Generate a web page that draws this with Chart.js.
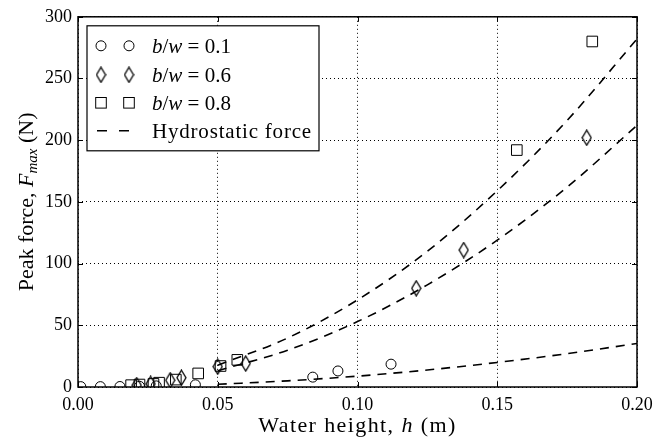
<!DOCTYPE html>
<html>
<head>
<meta charset="utf-8">
<script src="https://cdn.jsdelivr.net/npm/chart.js"></script>
<style>
    html, body { margin: 0; padding: 0; background: #fff; }
    #wrap { width: 672px; height: 443px; }
</style>
</head>
<body>
<div id="wrap"><canvas id="plt-force"></canvas></div>
<script>
let h_01 = [0.001, 0.008, 0.015, 0.022, 0.028, 0.042, 0.084, 0.093, 0.112];
let f_01 = [0.3, 0.3, 0.4, 0.6, 0.9, 1.8, 8.0, 13.0, 18.5];

let h_06 = [0.021, 0.026, 0.033, 0.037, 0.050, 0.060, 0.121, 0.138, 0.182];
let f_06 = [1.5, 2.5, 5.5, 7.5, 16.5, 19.0, 80.0, 111.0, 202.0];

let h_08 = [0.019, 0.022, 0.027, 0.029, 0.035, 0.043, 0.051, 0.057, 0.157, 0.184];
let f_08 = [1.5, 2.0, 2.5, 3.5, 6.0, 11.0, 17.0, 22.0, 192.0, 280.0];

// hydrostatic force curves (dashed), read at a few heights
let h_hyd = [0.05, 0.075, 0.10, 0.125, 0.15, 0.175, 0.20];
let hyd_01 = [2.2, 5.0, 8.8, 13.8, 19.9, 27.0, 35.3];
let hyd_06 = [13.2, 29.8, 53.0, 82.8, 119.0, 162.0, 212.0];
let hyd_08 = [17.7, 39.7, 70.6, 110.0, 159.0, 216.0, 282.0];

let x_ticks = [0.00, 0.05, 0.10, 0.15, 0.20];
let y_ticks = [0, 50, 100, 150, 200, 250, 300];
let legend_labels = ['0.1', '0.6', '0.8'];

const SERIF = '"Liberation Serif", "DejaVu Serif", serif';

function pts(xs, ys) {
    return xs.map((v, i) => ({ x: v, y: ys[i] }));
}

// thin diamond marker like matplotlib 'd'
function thin_diamond() {
    let c = document.createElement('canvas');
    c.width = 11; c.height = 17;
    let g = c.getContext('2d');
    g.strokeStyle = '#000';
    g.lineWidth = 1.3;
    g.beginPath();
    g.moveTo(5.5, 1); g.lineTo(10, 8.5); g.lineTo(5.5, 16); g.lineTo(1, 8.5); g.closePath();
    g.stroke();
    return c;
}
let diamond = thin_diamond();

function draw_parts(ctx, parts, cx, cy) {
    let total = 0;
    parts.forEach(p => { ctx.font = p.font; ctx.letterSpacing = p.ls || '0px'; p.w = ctx.measureText(p.t).width; total += p.w; });
    let x = cx - total / 2;
    parts.forEach(p => {
        ctx.font = p.font;
        ctx.letterSpacing = p.ls || '0px';
        ctx.fillText(p.t, x, cy + (p.dy || 0));
        x += p.w;
    });
    ctx.letterSpacing = '0px';
}

function draw_marker(ctx, kind, x, y) {
    ctx.beginPath();
    if (kind == 'circle') {
        ctx.arc(x, y, 5, 0, Math.PI * 2);
        ctx.stroke();
    } else if (kind == 'square') {
        ctx.strokeRect(x - 5.3, y - 5.3, 10.6, 10.6);
    } else {
        ctx.drawImage(diamond, x - 5.5, y - 8.5);
    }
}

const framePlugin = {
    id: 'frame',
    afterDatasetsDraw(chart) {
        const ctx = chart.ctx;
        const a = chart.chartArea;
        const xs = chart.scales.x, ys = chart.scales.y;
        ctx.save();
        ctx.strokeStyle = '#000';
        ctx.lineWidth = 1;
        x_ticks.forEach(v => {
            let px = Math.round(xs.getPixelForValue(v)) + 0.5;
            ctx.beginPath();
            ctx.moveTo(px, a.bottom); ctx.lineTo(px, a.bottom - 5);
            ctx.moveTo(px, a.top); ctx.lineTo(px, a.top + 5);
            ctx.stroke();
        });
        y_ticks.forEach(v => {
            let py = Math.round(ys.getPixelForValue(v)) + 0.5;
            ctx.beginPath();
            ctx.moveTo(a.left, py); ctx.lineTo(a.left + 5, py);
            ctx.moveTo(a.right, py); ctx.lineTo(a.right - 5, py);
            ctx.stroke();
        });
        ctx.lineWidth = 1.5;
        ctx.strokeRect(a.left, a.top, a.right - a.left, a.bottom - a.top);

        // legend box
        let lx = a.left + 9, ly = a.top + 9, lw = 232, lh = 125;
        ctx.fillStyle = '#fff';
        ctx.fillRect(lx, ly, lw, lh);
        ctx.lineWidth = 1.2;
        ctx.strokeRect(lx, ly, lw, lh);
        ctx.fillStyle = '#000';
        ctx.lineWidth = 1;
        ctx.textAlign = 'left';
        ctx.textBaseline = 'alphabetic';
        let kinds = ['circle', 'diamond', 'square'];
        let rows = [29, 58, 86, 114];
        kinds.forEach((k, i) => {
            let cy = a.top + rows[i];
            draw_marker(ctx, k, lx + 14, cy);
            draw_marker(ctx, k, lx + 42, cy);
            let parts = [
                { t: 'b', font: 'italic 21px ' + SERIF },
                { t: '/', font: '21px ' + SERIF },
                { t: 'w', font: 'italic 21px ' + SERIF },
                { t: ' = ' + legend_labels[i], font: '21px ' + SERIF }
            ];
            let tw = 0;
            parts.forEach(p => { ctx.font = p.font; tw += ctx.measureText(p.t).width; });
            draw_parts(ctx, parts, lx + 65 + tw / 2, cy + 7);
        });
        let cy = a.top + rows[3];
        ctx.lineWidth = 1.6;
        ctx.setLineDash([10, 12]);
        ctx.beginPath();
        ctx.moveTo(lx + 10, cy); ctx.lineTo(lx + 42, cy);
        ctx.stroke();
        ctx.setLineDash([]);
        ctx.font = '21px ' + SERIF;
        ctx.letterSpacing = '0.8px';
        ctx.fillText('Hydrostatic force', lx + 65, cy + 7);
        ctx.letterSpacing = '0px';

        // axis titles
        draw_parts(ctx, [
            { t: 'Water height, ', font: '22px ' + SERIF, ls: '1.4px' },
            { t: 'h', font: 'italic 22px ' + SERIF, ls: '1.4px' },
            { t: ' (m)', font: '22px ' + SERIF, ls: '1.4px' }
        ], (a.left + a.right) / 2, 432);
        ctx.translate(33, (a.top + a.bottom) / 2);
        ctx.rotate(-Math.PI / 2);
        draw_parts(ctx, [
            { t: 'Peak force, ', font: '22px ' + SERIF },
            { t: 'F', font: 'italic 22px ' + SERIF },
            { t: 'max', font: 'italic 15px ' + SERIF, dy: 4 },
            { t: ' (N)', font: '22px ' + SERIF }
        ], 0, 0);
        ctx.restore();
    }
};

function scatter_set(label, data, style, radius) {
    return {
        label: label,
        data: data,
        showLine: false,
        pointStyle: style,
        pointRadius: radius,
        pointHoverRadius: radius,
        borderColor: '#000',
        backgroundColor: 'rgba(0,0,0,0)',
        pointBorderWidth: 1,
        clip: 0
    };
}

function hyd_set(data) {
    return {
        label: 'Hydrostatic force',
        data: data,
        showLine: true,
        pointRadius: 0,
        borderColor: '#000',
        borderWidth: 1.6,
        borderDash: [9, 7],
        cubicInterpolationMode: 'monotone',
        fill: false
    };
}

var ctx = document.getElementById('plt-force');
var chart = new Chart(ctx, {
    type: 'scatter',
    data: {
        datasets: [
            hyd_set(pts(h_hyd, hyd_01)),
            hyd_set(pts(h_hyd, hyd_06)),
            hyd_set(pts(h_hyd, hyd_08)),
            scatter_set('b/w = 0.1', pts(h_01, f_01), 'circle', 5),
            scatter_set('b/w = 0.6', pts(h_06, f_06), diamond, 5),
            scatter_set('b/w = 0.8', pts(h_08, f_08), 'rect', 7.5)
        ]
    },
    options: {
        responsive: true,
        maintainAspectRatio: false,
        animation: false,
        layout: { padding: { top: 14, right: 35, left: 0, bottom: 0 } },
        scales: {
            x: {
                type: 'linear',
                min: 0, max: 0.2,
                afterFit: s => { s.height = 56; },
                afterBuildTicks: s => { s.ticks = x_ticks.map(v => ({ value: v })); },
                ticks: {
                    color: '#000',
                    padding: 7,
                    font: { family: SERIF, size: 18 },
                    callback: v => v.toFixed(2)
                },
                grid: { color: '#000', lineWidth: 1, drawTicks: false },
                border: { display: false, dash: [1, 3] }
            },
            y: {
                type: 'linear',
                min: 0, max: 300,
                afterFit: s => { s.width = 78; },
                afterBuildTicks: s => { s.ticks = y_ticks.map(v => ({ value: v })); },
                ticks: {
                    color: '#000',
                    padding: 6,
                    font: { family: SERIF, size: 18 }
                },
                grid: { color: '#000', lineWidth: 1, drawTicks: false },
                border: { display: false, dash: [1, 3] }
            }
        },
        plugins: {
            legend: { display: false },
            tooltip: { enabled: false },
            title: { display: false }
        }
    },
    plugins: [framePlugin]
});
</script>
</body>
</html>
